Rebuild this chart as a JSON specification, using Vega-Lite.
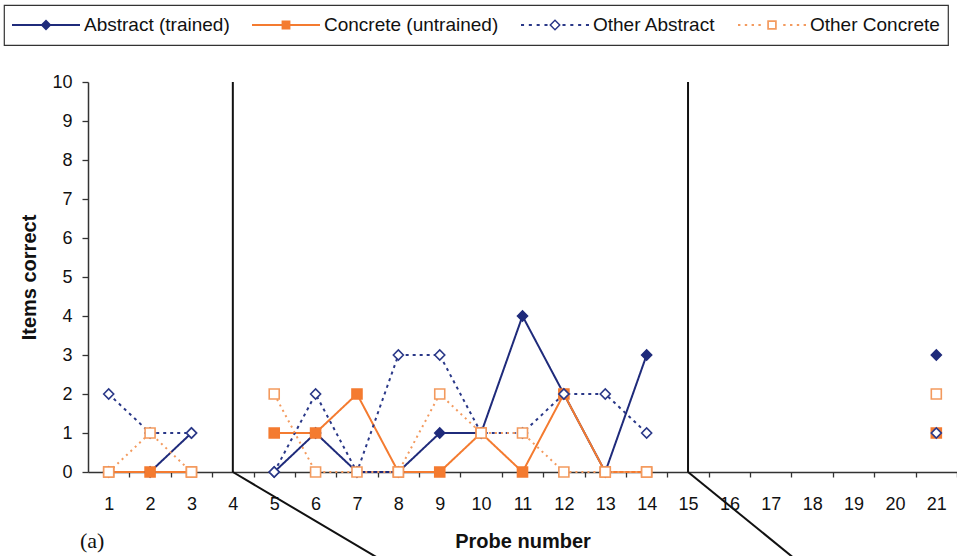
{
  "$schema": "https://vega.github.io/schema/vega-lite/v6.json",
  "width": 869,
  "height": 390,
  "autosize": {"type": "none"},
  "padding": {"left": 88, "top": 82, "right": 0, "bottom": 84},
  "background": "white",
  "title": {"text": "(a)", "orient": "bottom", "anchor": "start", "frame": "group", "font": "Liberation Serif", "fontSize": 22, "fontWeight": "normal", "color": "#111", "dx": -8, "dy": -32},
  "datasets": {
    "scores": [
      {"probe": 1, "series": "Abstract (trained)", "value": 0, "phase": "A"},
      {"probe": 2, "series": "Abstract (trained)", "value": 0, "phase": "A"},
      {"probe": 3, "series": "Abstract (trained)", "value": 1, "phase": "A"},
      {"probe": 5, "series": "Abstract (trained)", "value": 0, "phase": "B"},
      {"probe": 6, "series": "Abstract (trained)", "value": 1, "phase": "B"},
      {"probe": 7, "series": "Abstract (trained)", "value": 0, "phase": "B"},
      {"probe": 8, "series": "Abstract (trained)", "value": 0, "phase": "B"},
      {"probe": 9, "series": "Abstract (trained)", "value": 1, "phase": "B"},
      {"probe": 10, "series": "Abstract (trained)", "value": 1, "phase": "B"},
      {"probe": 11, "series": "Abstract (trained)", "value": 4, "phase": "B"},
      {"probe": 12, "series": "Abstract (trained)", "value": 2, "phase": "B"},
      {"probe": 13, "series": "Abstract (trained)", "value": 0, "phase": "B"},
      {"probe": 14, "series": "Abstract (trained)", "value": 3, "phase": "B"},
      {"probe": 21, "series": "Abstract (trained)", "value": 3, "phase": "C"},
      {"probe": 1, "series": "Concrete (untrained)", "value": 0, "phase": "A"},
      {"probe": 2, "series": "Concrete (untrained)", "value": 0, "phase": "A"},
      {"probe": 3, "series": "Concrete (untrained)", "value": 0, "phase": "A"},
      {"probe": 5, "series": "Concrete (untrained)", "value": 1, "phase": "B"},
      {"probe": 6, "series": "Concrete (untrained)", "value": 1, "phase": "B"},
      {"probe": 7, "series": "Concrete (untrained)", "value": 2, "phase": "B"},
      {"probe": 8, "series": "Concrete (untrained)", "value": 0, "phase": "B"},
      {"probe": 9, "series": "Concrete (untrained)", "value": 0, "phase": "B"},
      {"probe": 10, "series": "Concrete (untrained)", "value": 1, "phase": "B"},
      {"probe": 11, "series": "Concrete (untrained)", "value": 0, "phase": "B"},
      {"probe": 12, "series": "Concrete (untrained)", "value": 2, "phase": "B"},
      {"probe": 13, "series": "Concrete (untrained)", "value": 0, "phase": "B"},
      {"probe": 14, "series": "Concrete (untrained)", "value": 0, "phase": "B"},
      {"probe": 21, "series": "Concrete (untrained)", "value": 1, "phase": "C"},
      {"probe": 1, "series": "Other Abstract", "value": 2, "phase": "A"},
      {"probe": 2, "series": "Other Abstract", "value": 1, "phase": "A"},
      {"probe": 3, "series": "Other Abstract", "value": 1, "phase": "A"},
      {"probe": 5, "series": "Other Abstract", "value": 0, "phase": "B"},
      {"probe": 6, "series": "Other Abstract", "value": 2, "phase": "B"},
      {"probe": 7, "series": "Other Abstract", "value": 0, "phase": "B"},
      {"probe": 8, "series": "Other Abstract", "value": 3, "phase": "B"},
      {"probe": 9, "series": "Other Abstract", "value": 3, "phase": "B"},
      {"probe": 10, "series": "Other Abstract", "value": 1, "phase": "B"},
      {"probe": 11, "series": "Other Abstract", "value": 1, "phase": "B"},
      {"probe": 12, "series": "Other Abstract", "value": 2, "phase": "B"},
      {"probe": 13, "series": "Other Abstract", "value": 2, "phase": "B"},
      {"probe": 14, "series": "Other Abstract", "value": 1, "phase": "B"},
      {"probe": 21, "series": "Other Abstract", "value": 1, "phase": "C"},
      {"probe": 1, "series": "Other Concrete", "value": 0, "phase": "A"},
      {"probe": 2, "series": "Other Concrete", "value": 1, "phase": "A"},
      {"probe": 3, "series": "Other Concrete", "value": 0, "phase": "A"},
      {"probe": 5, "series": "Other Concrete", "value": 2, "phase": "B"},
      {"probe": 6, "series": "Other Concrete", "value": 0, "phase": "B"},
      {"probe": 7, "series": "Other Concrete", "value": 0, "phase": "B"},
      {"probe": 8, "series": "Other Concrete", "value": 0, "phase": "B"},
      {"probe": 9, "series": "Other Concrete", "value": 2, "phase": "B"},
      {"probe": 10, "series": "Other Concrete", "value": 1, "phase": "B"},
      {"probe": 11, "series": "Other Concrete", "value": 1, "phase": "B"},
      {"probe": 12, "series": "Other Concrete", "value": 0, "phase": "B"},
      {"probe": 13, "series": "Other Concrete", "value": 0, "phase": "B"},
      {"probe": 14, "series": "Other Concrete", "value": 0, "phase": "B"},
      {"probe": 21, "series": "Other Concrete", "value": 2, "phase": "C"}
    ],
    "phaseLines": [
      {"x": 4, "y": 10, "x2": 4, "y2": 0},
      {"x": 4, "y": 0, "x2": 7.5, "y2": -2.2},
      {"x": 15, "y": 10, "x2": 15, "y2": 0},
      {"x": 15, "y": 0, "x2": 17.55, "y2": -2.2}
    ]
  },
  "resolve": {"scale": {"shape": "independent", "fill": "independent"}},
  "layer": [
    {
      "data": {"name": "phaseLines"},
      "mark": {"type": "rule", "color": "#111", "strokeWidth": 2, "clip": false},
      "encoding": {
        "x": {"field": "x", "type": "quantitative", "scale": {"domain": [0.5, 21.5], "nice": false, "zero": false},
          "axis": {"title": "Probe number", "values": [1,2,3,4,5,6,7,8,9,10,11,12,13,14,15,16,17,18,19,20,21], "tickCount": 21, "tickOffset": 20.69, "labelOffset": -20.69, "grid": false, "tickSize": 5, "labelPadding": 18, "titlePadding": 18, "labelFlush": false, "labelOverlap": false}},
        "y": {"field": "y", "type": "quantitative", "scale": {"domain": [0, 10], "nice": false},
          "axis": {"title": "Items correct", "values": [0,1,2,3,4,5,6,7,8,9,10], "tickCount": 11, "grid": false, "tickSize": 6, "labelPadding": 10, "titlePadding": 12, "labelOverlap": false, "labelFlush": false}},
        "x2": {"field": "x2"},
        "y2": {"field": "y2"}
      }
    },
    {
      "data": {"name": "scores"},
      "mark": {"type": "line", "strokeWidth": 2, "clip": false},
      "encoding": {
        "x": {"field": "probe", "type": "quantitative",
          "axis": {"title": "Probe number", "values": [1,2,3,4,5,6,7,8,9,10,11,12,13,14,15,16,17,18,19,20,21], "tickCount": 21, "tickOffset": 20.69, "labelOffset": -20.69, "grid": false, "tickSize": 5, "labelPadding": 18, "titlePadding": 18, "labelFlush": false, "labelOverlap": false}},
        "y": {"field": "value", "type": "quantitative",
          "axis": {"title": "Items correct", "values": [0,1,2,3,4,5,6,7,8,9,10], "tickCount": 11, "grid": false, "tickSize": 6, "labelPadding": 10, "titlePadding": 12, "labelOverlap": false, "labelFlush": false}},
        "detail": {"field": "phase"},
        "color": {"field": "series", "type": "nominal", "legend": null,
          "scale": {"domain": ["Abstract (trained)", "Concrete (untrained)", "Other Abstract", "Other Concrete"], "range": ["#1f2b7b", "#f47b30", "#2a3888", "#f39a5e"]}},
        "strokeDash": {"field": "series", "type": "nominal", "legend": null,
          "scale": {"domain": ["Abstract (trained)", "Concrete (untrained)", "Other Abstract", "Other Concrete"], "range": [[1, 0], [1, 0], [3, 4], [2, 4]]}}
      }
    },
    {
      "data": {"name": "scores"},
      "mark": {"type": "point", "filled": false, "strokeWidth": 1.6, "size": 100, "opacity": 1, "clip": false},
      "encoding": {
        "x": {"field": "probe", "type": "quantitative",
          "axis": {"title": "Probe number", "values": [1,2,3,4,5,6,7,8,9,10,11,12,13,14,15,16,17,18,19,20,21], "tickCount": 21, "tickOffset": 20.69, "labelOffset": -20.69, "grid": false, "tickSize": 5, "labelPadding": 18, "titlePadding": 18, "labelFlush": false, "labelOverlap": false}},
        "y": {"field": "value", "type": "quantitative",
          "axis": {"title": "Items correct", "values": [0,1,2,3,4,5,6,7,8,9,10], "tickCount": 11, "grid": false, "tickSize": 6, "labelPadding": 10, "titlePadding": 12, "labelOverlap": false, "labelFlush": false}},
        "color": {"field": "series", "type": "nominal", "legend": null},
        "shape": {"field": "series", "type": "nominal", "legend": null,
          "scale": {"domain": ["Abstract (trained)", "Concrete (untrained)", "Other Abstract", "Other Concrete"], "range": ["diamond", "square", "diamond", "square"]}},
        "fill": {"field": "series", "type": "nominal", "legend": null,
          "scale": {"domain": ["Abstract (trained)", "Concrete (untrained)", "Other Abstract", "Other Concrete"], "range": ["#1f2b7b", "#f47b30", "#ffffff", "#ffffff"]}}
      }
    },
    {
      "data": {"name": "scores"},
      "transform": [{"filter": "datum.value > 100"}],
      "mark": {"type": "point", "filled": true, "strokeWidth": 0},
      "encoding": {
        "x": {"field": "probe", "type": "quantitative",
          "axis": {"title": "Probe number", "values": [1,2,3,4,5,6,7,8,9,10,11,12,13,14,15,16,17,18,19,20,21], "tickCount": 21, "tickOffset": 20.69, "labelOffset": -20.69, "grid": false, "tickSize": 5, "labelPadding": 18, "titlePadding": 18, "labelFlush": false, "labelOverlap": false}},
        "y": {"field": "value", "type": "quantitative",
          "axis": {"title": "Items correct", "values": [0,1,2,3,4,5,6,7,8,9,10], "tickCount": 11, "grid": false, "tickSize": 6, "labelPadding": 10, "titlePadding": 12, "labelOverlap": false, "labelFlush": false}},
        "shape": {"field": "series", "type": "nominal",
          "scale": {"domain": ["Abstract (trained)", "Concrete (untrained)", "Other Abstract", "Other Concrete"],
            "range": [
              "M-1,-0.03H1V0.03H-1ZM0,-0.16L0.16,0L0,0.16L-0.16,0Z",
              "M-1,-0.03H1V0.03H-1ZM-0.13,-0.13H0.13V0.13H-0.13Z",
              "M-1,-0.03H-0.91V0.03H-1ZM-0.77,-0.03H-0.68V0.03H-0.77ZM-0.54,-0.03H-0.45V0.03H-0.54ZM-0.31,-0.03H-0.22V0.03H-0.31ZM0.22,-0.03H0.31V0.03H0.22ZM0.45,-0.03H0.54V0.03H0.45ZM0.68,-0.03H0.77V0.03H0.68ZM0.91,-0.03H1V0.03H0.91ZM0,-0.17L0.17,0L0,0.17L-0.17,0ZM0,-0.11L-0.11,0L0,0.11L0.11,0Z",
              "M-1,-0.03H-0.93V0.03H-1ZM-0.8,-0.03H-0.73V0.03H-0.8ZM-0.6,-0.03H-0.53V0.03H-0.6ZM-0.4,-0.03H-0.33V0.03H-0.4ZM0.33,-0.03H0.4V0.03H0.33ZM0.53,-0.03H0.6V0.03H0.53ZM0.73,-0.03H0.8V0.03H0.73ZM0.93,-0.03H1V0.03H0.93ZM-0.14,-0.14H0.14V0.14H-0.14ZM-0.09,-0.09V0.09H0.09V-0.09Z"
            ]},
          "legend": {"title": null, "orient": "none", "legendX": -84, "legendY": -77, "direction": "horizontal"}},
        "fill": {"field": "series", "type": "nominal",
          "scale": {"domain": ["Abstract (trained)", "Concrete (untrained)", "Other Abstract", "Other Concrete"], "range": ["#1f2b7b", "#f47b30", "#2a3888", "#f39a5e"]},
          "legend": {"title": null, "orient": "none", "legendX": -84, "legendY": -77, "direction": "horizontal"}}
      }
    }
  ],
  "config": {
    "view": {"stroke": null},
    "font": "Liberation Sans",
    "axis": {"domainColor": "#333", "tickColor": "#333", "domainWidth": 1.5, "tickWidth": 1.3, "labelFont": "Liberation Sans", "labelFontSize": 18, "labelColor": "#111", "titleFont": "Liberation Sans", "titleFontSize": 20, "titleFontWeight": "bold", "titleColor": "#111", "labelOverlap": false},
    "legend": {"orient": "none", "direction": "horizontal", "strokeColor": "#333", "strokeWidth": 1.2, "padding": 8, "labelFont": "Liberation Sans", "labelFontSize": 19, "labelColor": "#111", "labelLimit": 400, "symbolSize": 4624, "symbolStrokeWidth": 0, "labelOffset": 4, "columnPadding": 22, "clipHeight": 24, "symbolOpacity": 1}
  }
}
